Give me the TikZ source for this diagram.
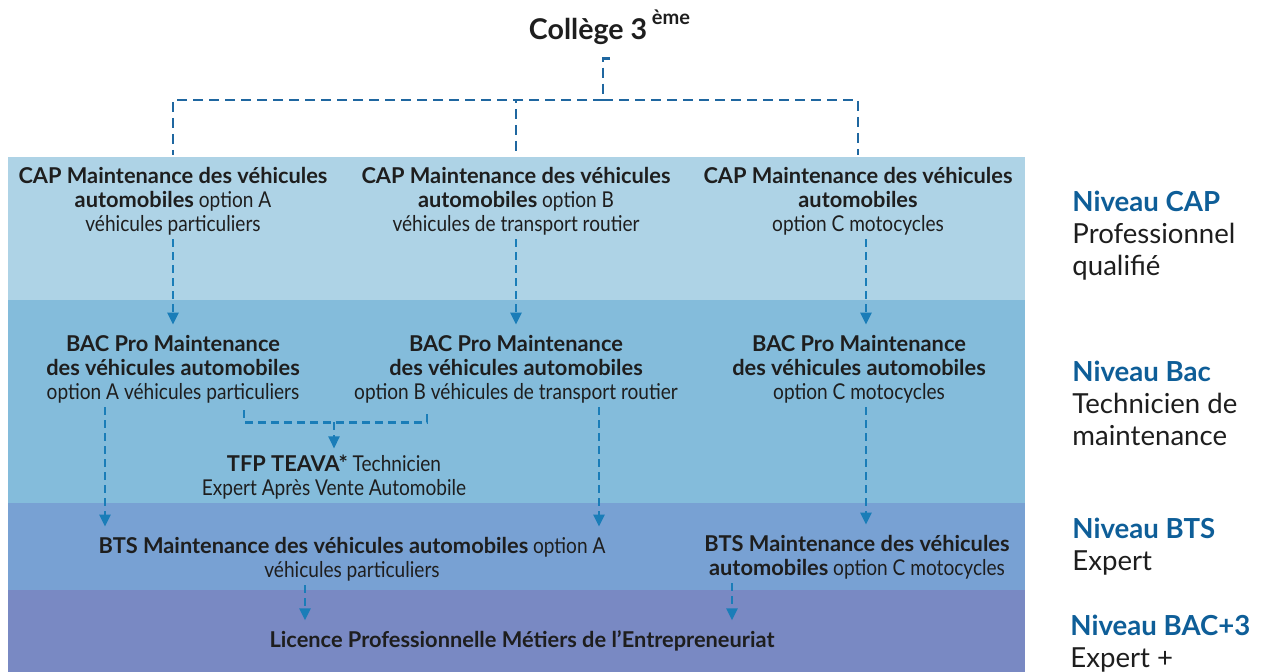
\documentclass[tikz,border=0pt]{standalone}
\usepackage{fontspec}
\setmainfont{Lato}[FakeStretch=0.875, BoldFeatures={FakeStretch=1}]
\newfontfamily\nivfont{Lato}
\usepackage{tikz}
\usetikzlibrary{positioning}
\usetikzlibrary{arrows.meta}
\usetikzlibrary{calc}

\definecolor{bandA}{HTML}{AED3E6}
\definecolor{bandB}{HTML}{84BCDB}
\definecolor{bandC}{HTML}{78A1D3}
\definecolor{bandD}{HTML}{7989C3}
\definecolor{flowc}{HTML}{1A7DB8}
\definecolor{treec}{HTML}{1F67A0}
\definecolor{niv}{HTML}{0E5E98}
\definecolor{txt}{HTML}{1E1E1E}

\tikzset{
  lbl/.style={align=center, text=txt, font=\fontsize{10.9}{12}\selectfont, inner sep=2pt},
  niveau/.style={anchor=west, align=left, text=txt, font=\nivfont\fontsize{13.8}{16}\selectfont, inner sep=0pt},
  tree/.style={draw=treec, line width=1.3pt, dash pattern=on 5pt off 3pt},
  link/.style={draw=flowc, line width=1.2pt, dash pattern=on 4pt off 2.5pt},
  flow/.style={link, -{Triangle[length=6pt,width=5.5pt]}, shorten >=3pt},
}

\begin{document}
\begin{tikzpicture}[x=0.5pt,y=-0.5pt]
\useasboundingbox (0,0) rectangle (1267,672);
\fill[bandA] (8,157) rectangle (1025,300);
\fill[bandB] (8,300) rectangle (1025,503);
\fill[bandC] (8,503) rectangle (1025,590);
\fill[bandD] (8,590) rectangle (1025,672);

\node[lbl, font=\bfseries\fontsize{14.3}{15}\selectfont](college) at (610,27){Collège 3\,\raisebox{0.3ex}{\textsuperscript{ème}}};
\coordinate (hub) at (603,100);

\node[lbl](capA) at (173,201){\textbf{CAP Maintenance des véhicules}\\\textbf{automobiles} option A\\véhicules particuliers};
\node[lbl](capB) at (516,201){\textbf{CAP Maintenance des véhicules}\\\textbf{automobiles} option B\\véhicules de transport routier};
\node[lbl](capC) at (858,201){\textbf{CAP Maintenance des véhicules}\\\textbf{automobiles}\\option C motocycles};

\node[lbl](bacA) at (173,369){\textbf{BAC Pro Maintenance}\\\textbf{des véhicules automobiles}\\option A véhicules particuliers};
\node[lbl](bacB) at (516,369){\textbf{BAC Pro Maintenance}\\\textbf{des véhicules automobiles}\\option B véhicules de transport routier};
\node[lbl](bacC) at (859,369){\textbf{BAC Pro Maintenance}\\\textbf{des véhicules automobiles}\\option C motocycles};
\node[lbl](tfp) at (334,477){\textbf{TFP TEAVA*} Technicien\\Expert Après Vente Automobile};

\node[lbl](btsA) at (352,559){\textbf{BTS Maintenance des véhicules automobiles} option A\\véhicules particuliers};
\node[lbl](btsC) at (857,557){\textbf{BTS Maintenance des véhicules}\\\textbf{automobiles} option C motocycles};
\node[lbl](lic) at (522,641){\textbf{Licence Professionnelle Métiers de l’Entrepreneuriat}};

\node[niveau](nivCap) at (1072,236){\textcolor{niv}{\bfseries Niveau CAP}\\Professionnel\\qualifié};
\node[niveau](nivBac) at (1072,403){\textcolor{niv}{\bfseries Niveau Bac}\\Technicien de\\maintenance};
\node[niveau](nivBts) at (1072,547){\textcolor{niv}{\bfseries Niveau BTS}\\Expert};
\node[niveau](nivLic) at (1070,644){\textcolor{niv}{\bfseries Niveau BAC+3}\\Expert +};

\draw[tree] ($(college.south)+(0,10)$) -| (hub);
\draw[tree, shorten >=4pt] (hub) -| (capA.north);
\draw[tree, shorten >=4pt] (hub) -| (capB.north);
\draw[tree, shorten >=4pt] (hub) -| (capC.north);

\draw[flow] (capA.south) -- (bacA.north);
\draw[flow] (capB.south) -- (bacB.north);
\draw[flow] ([xshift=4pt]capC.south) -- ([xshift=4pt]capC.south |- bacC.north);

\draw[flow] ([xshift=-34pt]bacA.south) -- ([xshift=-34pt]bacA.south |- btsA.north);
\draw[flow] ([xshift=41.5pt]bacB.south) -- ([xshift=41.5pt]bacB.south |- btsA.north);
\draw[flow] ([xshift=3.5pt]bacC.south) -- ([xshift=3.5pt]bacC.south |- btsC.north);
\draw[link] ($(bacA.south)+(71,3)$) |- ($(bacB.south)+(-89,15)$) coordinate(jB) -- ++(0,-12);
\draw[flow, shorten >=1pt] (tfp.north |- jB) -- (tfp.north);

\draw[flow] ([xshift=-23.5pt]btsA.south) -- ([xshift=-23.5pt]btsA.south |- lic.north);
\draw[flow] ([xshift=-62.5pt]btsC.south) -- ([xshift=-62.5pt]btsC.south |- lic.north);
\end{tikzpicture}
\end{document}
